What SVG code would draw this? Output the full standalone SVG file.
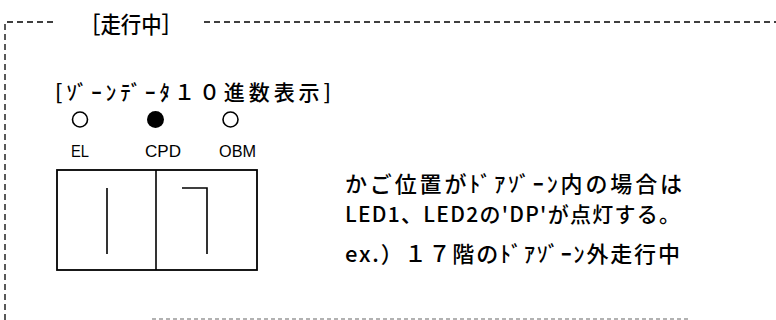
<svg xmlns="http://www.w3.org/2000/svg" width="776" height="320" viewBox="0 0 776 320">
<style>
.frame{fill:none;stroke:#000;stroke-width:1.3;stroke-dasharray:6 4}
.jp{font-family:"Noto Sans CJK JP","DejaVu Sans",sans-serif;fill:#000;font-weight:500}
.lbl{font-family:"Liberation Sans","DejaVu Sans",sans-serif;font-size:16px;fill:#000}
.ln{fill:none;stroke:#000;stroke-width:1.6}
</style>
<rect width="776" height="320" fill="#fff"/>
<g id="frame">
<path class="frame" d="M5,320 V22 H54"/>
<path class="frame" d="M204,22 H776"/>
<path d="M152,319 H690" fill="none" stroke="#999" stroke-width="1.5" stroke-dasharray="4 3"/>
</g>
<g id="title">
<text class="jp" x="80" y="33" font-size="23" textLength="102" lengthAdjust="spacingAndGlyphs">［走行中］</text>
</g>
<g id="subtitle">
<text class="jp" x="55" y="100" font-size="21" textLength="276" lengthAdjust="spacing">[ｿﾞｰﾝﾃﾞｰﾀ１０進数表示]</text>
</g>
<g id="led-el">
<circle cx="80" cy="119.5" r="7.5" fill="#fff" stroke="#000" stroke-width="1.6"/>
<text class="lbl" x="71" y="157" textLength="18" lengthAdjust="spacingAndGlyphs">EL</text>
</g>
<g id="led-cpd">
<circle cx="155.5" cy="119.5" r="8.5" fill="#000"/>
<text class="lbl" x="145" y="157" textLength="36" lengthAdjust="spacingAndGlyphs">CPD</text>
</g>
<g id="led-obm">
<circle cx="230.5" cy="119.5" r="7.5" fill="#fff" stroke="#000" stroke-width="1.6"/>
<text class="lbl" x="219" y="157" textLength="37" lengthAdjust="spacingAndGlyphs">OBM</text>
</g>
<g id="display">
<rect x="57" y="170" width="200" height="100" fill="none" stroke="#000" stroke-width="1.8"/>
<line class="ln" x1="156" y1="170" x2="156" y2="270"/>
<line class="ln" x1="107" y1="188" x2="107" y2="254"/>
<path class="ln" d="M182,188 H207 V254"/>
</g>
<g id="note">
<text class="jp" x="345" y="192" font-size="22" textLength="337" lengthAdjust="spacing">かご位置がﾄﾞｱｿﾞｰﾝ内の場合は</text>
<text class="jp" x="345" y="222" font-size="21" textLength="335" lengthAdjust="spacing">LED1、LED2の'DP'が点灯する。</text>
<text class="jp" x="345" y="262" font-size="22" textLength="335" lengthAdjust="spacing">ex.）１７階のﾄﾞｱｿﾞｰﾝ外走行中</text>
</g>
</svg>
